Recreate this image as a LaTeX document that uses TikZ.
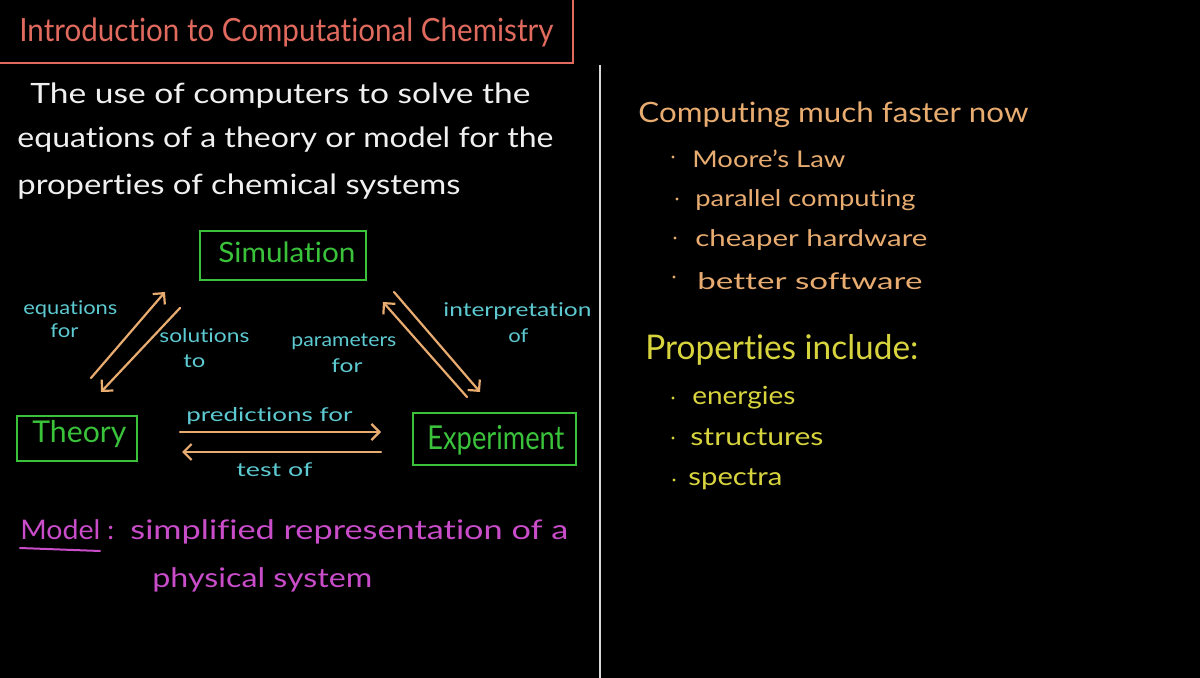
\documentclass[tikz,border=0pt]{standalone}
\usepackage{fontspec}
\setmainfont{Lato}[Ligatures={TeX,NoCommon}]
\usetikzlibrary{arrows.meta}

\definecolor{titlered}{HTML}{E06A5E}
\definecolor{boxgreen}{HTML}{3AC23B}
\definecolor{chalktan}{HTML}{E8AC70}
\definecolor{labelcyan}{HTML}{5DC9D1}
\definecolor{modelpink}{HTML}{C94CC9}
\definecolor{propyellow}{HTML}{D8D43E}
\definecolor{chalk}{HTML}{F0F0F0}
\definecolor{divider}{HTML}{D8D8D8}

% one pixel of the board is half a point
\newdimen\pxu \pxu=0.5pt
% stretch a line of text to a given width (in board pixels), keeping its height
\newcommand\hwfit[2]{\resizebox{#1\pxu}{\height}{#2}}

\begin{document}
\begin{tikzpicture}[x=0.5pt,y=-0.5pt,
  txt/.style={inner sep=0pt, anchor=base west},
  gbox/.style={draw=boxgreen, line width=1pt, inner sep=0pt},
  flow/.style={draw=chalktan, line width=1.1pt, line cap=round,
    -{Straight Barb[length=4pt,width=8pt]}},
  lbl/.style={txt, text=labelcyan, font=\fontsize{9.5}{11}\selectfont},
  body/.style={txt, text=chalk, font=\fontsize{14}{17}\selectfont},
  boxtxt/.style={txt, text=boxgreen},
  fast/.style={txt, text=chalktan, font=\fontsize{11.5}{14}\selectfont},
  prop/.style={txt, text=propyellow, font=\fontsize{12.5}{15}\selectfont},
  model/.style={txt, text=modelpink, font=\fontsize{13.5}{16}\selectfont}]

\fill[black] (0,0) rectangle (1200,678);
\useasboundingbox (0,0) rectangle (1200,678);

% ---- title (its top and left sides run off the board) ----
\node[draw=titlered, line width=1pt, inner sep=0pt,
      minimum width=291.5pt, minimum height=36pt] (titlebox) at (281.5,27) {};
\node[txt, text=titlered, font=\fontsize{16}{19}\selectfont] (title) at (19,42)
  {\hwfit{534}{Introduction to Computational Chemistry}};

% ---- divider ----
\coordinate (divtop) at (600,65);
\coordinate (divbot) at (600,678);
\draw[divider, line width=1pt] (divtop) -- (divbot);

% ---- definition ----
\node[body] (def1) at (30,104) {\hwfit{500}{The use of computers to solve the}};
\node[body] (def2) at (17,148) {\hwfit{536}{equations of a theory or model for the}};
\node[body] (def3) at (17,195) {\hwfit{443}{properties of chemical systems}};

% ---- triangle of boxes ----
\node[gbox, minimum width=83pt, minimum height=24.5pt] (simbox) at (283,255.5) {};
\node[gbox, minimum width=60pt, minimum height=22.5pt] (thybox) at (77,438.5) {};
\node[gbox, minimum width=81.5pt, minimum height=26pt] (expbox) at (494.5,439) {};
\node[boxtxt, font=\fontsize{14}{17}\selectfont] (simtxt) at (218,263) {\hwfit{137}{Simulation}};
\node[boxtxt, font=\fontsize{15}{18}\selectfont] (thytxt) at (32,443) {\hwfit{94}{Theory}};
\node[boxtxt, font=\fontsize{16.5}{20}\selectfont] (exptxt) at (427,450) {\hwfit{137}{Experiment}};

% ---- arrow end points ----
\coordinate (ts1) at (91,378);   \coordinate (ts2) at (165,292);
\coordinate (st1) at (180,308);  \coordinate (st2) at (101,392);
\coordinate (se1) at (394,292);  \coordinate (se2) at (480,392);
\coordinate (es1) at (467,397);  \coordinate (es2) at (383,302);
\coordinate (te1) at (180,432);  \coordinate (te2) at (381,432);
\coordinate (et1) at (381,452);  \coordinate (et2) at (182,452);

\draw[flow] (ts1) -- (ts2);
\draw[flow] (st1) -- (st2);
\draw[flow] (se1) -- (se2);
\draw[flow] (es1) -- (es2);
\draw[flow] (te1) -- (te2);
\draw[flow] (et1) -- (et2);

% ---- arrow labels ----
\node[lbl] (eq1) at (23,315) {\hwfit{94}{equations}};
\node[lbl] (eq2) at (50,338) {\hwfit{28}{for}};
\node[lbl] (so1) at (159,343) {\hwfit{90}{solutions}};
\node[lbl] (so2) at (183,368) {\hwfit{22}{to}};
\node[lbl] (pa1) at (291,347) {\hwfit{105}{parameters}};
\node[lbl] (pa2) at (331,373) {\hwfit{31}{for}};
\node[lbl] (in1) at (443,317) {\hwfit{148}{interpretation}};
\node[lbl] (in2) at (508,343) {\hwfit{20}{of}};
\node[lbl] (pr1) at (186,422) {\hwfit{166}{predictions for}};
\node[lbl] (te)  at (236,477) {\hwfit{76}{test of}};

% ---- model definition ----
\node[model] (mword) at (20,540) {\hwfit{80}{Model}};
\coordinate (ul1) at (20,548);
\coordinate (ul2) at (100,551);
\draw[modelpink, line width=1pt, line cap=round] (ul1) -- (ul2);
\node[model] (mcolon) at (107,540) {:};
\node[model] (mdef1) at (130,540) {\hwfit{438}{simplified representation of a}};
\node[model] (mdef2) at (152,588) {\hwfit{220}{physical system}};

% ---- computing list ----
\node[txt, text=chalktan, font=\fontsize{14}{17}\selectfont] (comp) at (638,123)
  {\hwfit{390}{Computing much faster now}};
\node[fast] (c1) at (692,168) {\hwfit{153}{Moore's Law}};
\node[fast] (c2) at (695,207) {\hwfit{220}{parallel computing}};
\node[fast] (c3) at (695,247) {\hwfit{232}{cheaper hardware}};
\node[fast] (c4) at (697,290) {\hwfit{225}{better software}};
\coordinate (cb1) at (673,157);
\coordinate (cb2) at (677,199);
\coordinate (cb3) at (675,238);
\coordinate (cb4) at (674,277);
\foreach \b in {cb1,cb2,cb3,cb4} \fill[chalktan] (\b) circle[radius=1.7];

% ---- properties list ----
\node[txt, text=propyellow, font=\fontsize{17}{20}\selectfont] (props) at (645,360)
  {\hwfit{273}{Properties include:}};
\node[prop] (p1) at (692,405) {\hwfit{103}{energies}};
\node[prop] (p2) at (690,446) {\hwfit{133}{structures}};
\node[prop] (p3) at (688,486) {\hwfit{94}{spectra}};
\coordinate (pb1) at (673,398);
\coordinate (pb2) at (673,438);
\coordinate (pb3) at (674,480);
\foreach \b in {pb1,pb2,pb3} \fill[propyellow] (\b) circle[radius=1.7];

\end{tikzpicture}
\end{document}
